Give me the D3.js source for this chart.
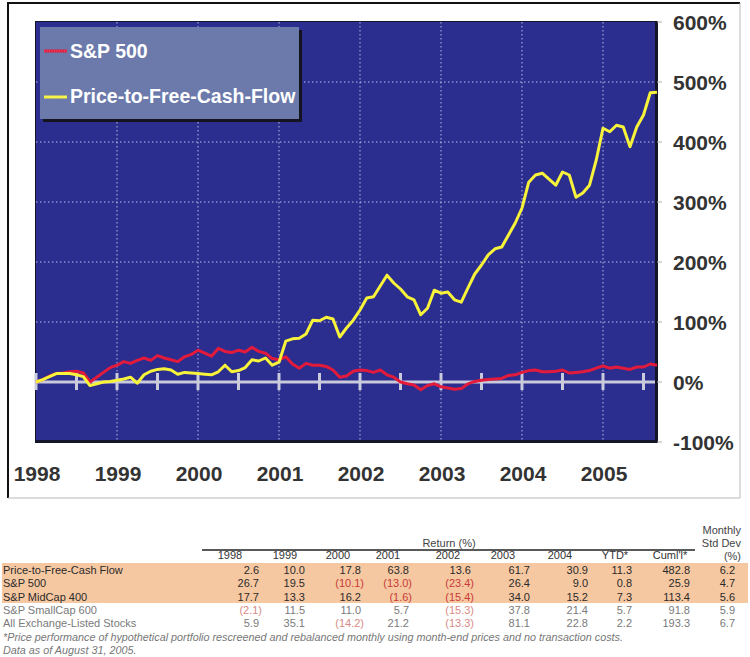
<!DOCTYPE html>
<html>
<head>
  <meta charset="utf-8">
  <title>Price-to-Free-Cash-Flow vs S&amp;P 500</title>
  <style>
    body { margin: 0; background: #fff; font-family: Arial, "Liberation Sans", sans-serif; }
    svg text { font-family: Arial, "Liberation Sans", sans-serif; }
  </style>
  <script src="https://d3js.org/d3.v7.min.js"></script>
</head>
<body>
  <div id="chart"></div>
  <script>
    // month-end values, Dec 1997 (0) .. Aug 2005, cumulative % return
    const startYear = 1998;
    const sp500 = [
      0, 4, 10, 14, 15, 17, 18, 15, 0, 8, 16, 24,
      28, 34, 31, 36, 40, 36, 44, 40, 37, 34, 42, 46,
      53, 48, 43, 56, 51, 49, 53, 50, 58, 51, 48, 39,
      37, 42, 30, 23, 31, 28, 28, 26, 20, 8, 10, 18,
      20, 19, 16, 20, 12, 8, 0, -3, -5, -13, -6, -3,
      -8, -10, -12, -11, -3, 1, 3, 4, 5, 6, 11, 12,
      16, 19, 20, 17, 17, 18, 20, 15, 16, 17, 19, 23,
      27, 23, 25, 23, 21, 25, 25, 30, 28
    ];
    const pfcf = [
      0, 4, 9, 14, 14, 14, 12, 9, -6, -3, 0, 1,
      3, 5, 8, -2, 12, 18, 21, 22, 20, 13, 16, 15,
      14, 13, 12, 17, 28, 17, 19, 24, 37, 35, 40, 28,
      33, 68, 72, 73, 80, 103, 102, 108, 105, 75, 90, 103,
      120, 140, 142, 160, 178, 165, 155, 142, 137, 112, 123, 153,
      148, 150, 137, 133, 157, 180, 195, 212, 222, 225, 245, 265,
      290, 333, 345, 348, 338, 328, 350, 345, 308, 315, 328, 370,
      423, 417, 428, 425, 392, 425, 445, 482, 483
    ];
    const seriesNames = ["S&P 500", "Price-to-Free-Cash-Flow"];
    const seriesColors = ["#e21b3c", "#f7f23a"];
    const yearTicks = [1998, 1999, 2000, 2001, 2002, 2003, 2004, 2005];
    const yTicks = [-100, 0, 100, 200, 300, 400, 500, 600];

    // table
    const tableColumns = ["1998", "1999", "2000", "2001", "2002", "2003", "2004", "YTD*", "Cuml'l*", ""];
    const tableRows = ["Price-to-Free-Cash Flow", "S&P 500", "S&P MidCap 400", "S&P SmallCap 600", "All Exchange-Listed Stocks"];
    const tableValues = [
      [2.6, 10.0, 17.8, 63.8, 13.6, 61.7, 30.9, 11.3, 482.8, 6.2],
      [26.7, 19.5, -10.1, -13.0, -23.4, 26.4, 9.0, 0.8, 25.9, 4.7],
      [17.7, 13.3, 16.2, -1.6, -15.4, 34.0, 15.2, 7.3, 113.4, 5.6],
      [-2.1, 11.5, 11.0, 5.7, -15.3, 37.8, 21.4, 5.7, 91.8, 5.9],
      [5.9, 35.1, -14.2, 21.2, -13.3, 81.1, 22.8, 2.2, 193.3, 6.7]
    ];
    const footnotes = [
      "*Price performance of hypothetical portfolio rescreened and rebalanced monthly using month-end prices and no transaction costs.",
      "Data as of August 31, 2005."
    ];

    const svg = d3.select("#chart").append("svg")
      .attr("width", 750)
      .attr("height", 657);

    // outer frame, dark top/left, light bottom/right
    svg.append("path").attr("d", "M8,498V3H740").attr("fill", "none")
      .attr("stroke", "#111").attr("stroke-width", 2);
    svg.append("path").attr("d", "M740,3V498H8").attr("fill", "none")
      .attr("stroke", "#b8b8b8").attr("stroke-width", 1);

    const plot = { left: 36, top: 22, right: 657, bottom: 442 };

    const x = d3.scaleLinear()
      .domain([startYear, startYear + (sp500.length - 1) / 12])
      .range([plot.left, plot.right]);
    const y = d3.scaleLinear()
      .domain([-100, 600])
      .range([plot.bottom, plot.top]);

    // plot background with a dark edge
    svg.append("rect")
      .attr("x", plot.left - 1).attr("y", plot.top - 1)
      .attr("width", plot.right - plot.left + 2).attr("height", plot.bottom - plot.top + 2)
      .attr("fill", "#15152a");
    svg.append("rect")
      .attr("x", plot.left).attr("y", plot.top)
      .attr("width", plot.right - plot.left - 2).attr("height", plot.bottom - plot.top - 2)
      .attr("fill", "#2b2d8f");

    // dotted grid
    svg.append("g")
      .selectAll("line")
      .data(yTicks.filter(d => d > 0 && d < 600))
      .join("line")
      .attr("x1", plot.left).attr("x2", plot.right - 2)
      .attr("y1", d => y(d)).attr("y2", d => y(d))
      .attr("stroke", "#b8bce6").attr("stroke-width", 1)
      .attr("stroke-dasharray", "1.5,2.5");
    svg.append("g")
      .selectAll("line")
      .data(yearTicks.slice(1))
      .join("line")
      .attr("x1", d => x(d)).attr("x2", d => x(d))
      .attr("y1", plot.top).attr("y2", plot.bottom - 2)
      .attr("stroke", "#b8bce6").attr("stroke-width", 1)
      .attr("stroke-dasharray", "1.5,2.5");

    // right side small ticks
    svg.append("g")
      .selectAll("line")
      .data(yTicks)
      .join("line")
      .attr("x1", plot.right).attr("x2", plot.right + 5)
      .attr("y1", d => y(d)).attr("y2", d => y(d))
      .attr("stroke", "#b0b0b0").attr("stroke-width", 1);

    // zero line with half-year ticks
    svg.append("line")
      .attr("x1", plot.left).attr("x2", plot.right - 2)
      .attr("y1", y(0)).attr("y2", y(0))
      .attr("stroke", "#c9cadc").attr("stroke-width", 3);
    const halfYears = d3.range(startYear, 2005.6, 0.5);
    svg.append("g")
      .selectAll("line")
      .data(halfYears)
      .join("line")
      .attr("x1", d => x(d)).attr("x2", d => x(d))
      .attr("y1", y(0) - 9).attr("y2", y(0) + 8)
      .attr("stroke", "#c9cadc").attr("stroke-width", 3);

    // lines
    const line = d3.line()
      .x((d, i) => x(startYear + i / 12))
      .y(d => y(d));
    [sp500, pfcf].forEach((s, k) => {
      svg.append("path")
        .datum(s)
        .attr("fill", "none")
        .attr("stroke", seriesColors[k])
        .attr("stroke-width", 3)
        .attr("stroke-linejoin", "round")
        .attr("d", line);
    });

    // legend
    svg.append("rect").attr("x", 43).attr("y", 30).attr("width", 259).attr("height", 92).attr("fill", "#141420");
    svg.append("rect").attr("x", 40).attr("y", 27).attr("width", 259).attr("height", 92).attr("fill", "#6b7aab");
    seriesNames.forEach((name, k) => {
      const ly = k === 0 ? 51 : 97;
      svg.append("line")
        .attr("x1", 44).attr("x2", 67).attr("y1", ly).attr("y2", ly)
        .attr("stroke", seriesColors[k]).attr("stroke-width", 3);
      svg.append("line")
        .attr("x1", 44).attr("x2", 67).attr("y1", ly).attr("y2", ly)
        .attr("stroke", "#fff").attr("stroke-opacity", 0.35).attr("stroke-width", 1)
        .attr("stroke-dasharray", "1,1.5");
      svg.append("text")
        .attr("x", 70).attr("y", k === 0 ? 58 : 103)
        .attr("fill", "#fff")
        .attr("font-size", "19.5px").attr("font-weight", "bold")
        .text(name);
    });

    // axis labels
    svg.append("g")
      .selectAll("text")
      .data(yTicks)
      .join("text")
      .attr("x", 673).attr("y", d => y(d) + 8)
      .attr("fill", "#333")
      .attr("font-size", "21px").attr("font-weight", "bold")
      .text(d => d + "%");
    svg.append("g")
      .selectAll("text")
      .data(yearTicks)
      .join("text")
      .attr("x", d => x(d) + 1).attr("y", 481)
      .attr("text-anchor", "middle")
      .attr("fill", "#333")
      .attr("font-size", "21px").attr("font-weight", "bold")
      .text(d => d);

    // table
    const colRight = [259, 305, 361, 409, 471, 530, 588, 632, 690, 735];
    const colHead = [230, 285, 338, 388, 448, 503, 560, 615, 670];
    const rowY = d3.scaleLinear().domain([0, 1]).range([574, 587.3]);
    const fs = "11px";

    svg.append("rect")
      .attr("x", 2).attr("y", 563).attr("width", 746).attr("height", 40)
      .attr("fill", "#f6c8a2");

    svg.append("line")
      .attr("x1", 202).attr("x2", 695).attr("y1", 550).attr("y2", 550)
      .attr("stroke", "#222").attr("stroke-width", 1.3);
    svg.append("text")
      .attr("x", 449).attr("y", 547).attr("text-anchor", "middle")
      .attr("font-size", fs).attr("fill", "#444").text("Return (%)");
    ["Monthly", "Std Dev", "(%)"].forEach((t, i) => {
      svg.append("text")
        .attr("x", 741).attr("y", 534 + i * 13).attr("text-anchor", "end")
        .attr("font-size", fs).attr("fill", "#444").text(t);
    });
    svg.append("g")
      .selectAll("text")
      .data(tableColumns.slice(0, 9))
      .join("text")
      .attr("x", (d, i) => colHead[i]).attr("y", 559)
      .attr("text-anchor", "middle")
      .attr("font-size", fs).attr("fill", "#333")
      .text(d => d);

    tableRows.forEach((name, r) => {
      const main = r < 3;
      const g = svg.append("g");
      g.append("text")
        .attr("x", 3).attr("y", rowY(r))
        .attr("font-size", fs).attr("fill", main ? "#2a2a2a" : "#7a7a7a")
        .text(name);
      g.selectAll("text.v")
        .data(tableValues[r])
        .join("text")
        .attr("class", "v")
        .attr("x", (d, i) => colRight[i] + (d < 0 ? 3 : 0))
        .attr("y", rowY(r))
        .attr("text-anchor", "end")
        .attr("font-size", fs)
        .attr("fill", d => d < 0 ? (main ? "#c83a36" : "#d88a86") : (main ? "#2a2a2a" : "#7a7a7a"))
        .text(d => d < 0 ? "(" + d3.format(".1f")(-d) + ")" : d3.format(".1f")(d));
    });

    footnotes.forEach((t, i) => {
      svg.append("text")
        .attr("x", 3).attr("y", 641 + i * 12.5)
        .attr("font-size", "10.8px").attr("font-style", "italic")
        .attr("fill", "#777")
        .text(t);
    });
  </script>
</body>
</html>
